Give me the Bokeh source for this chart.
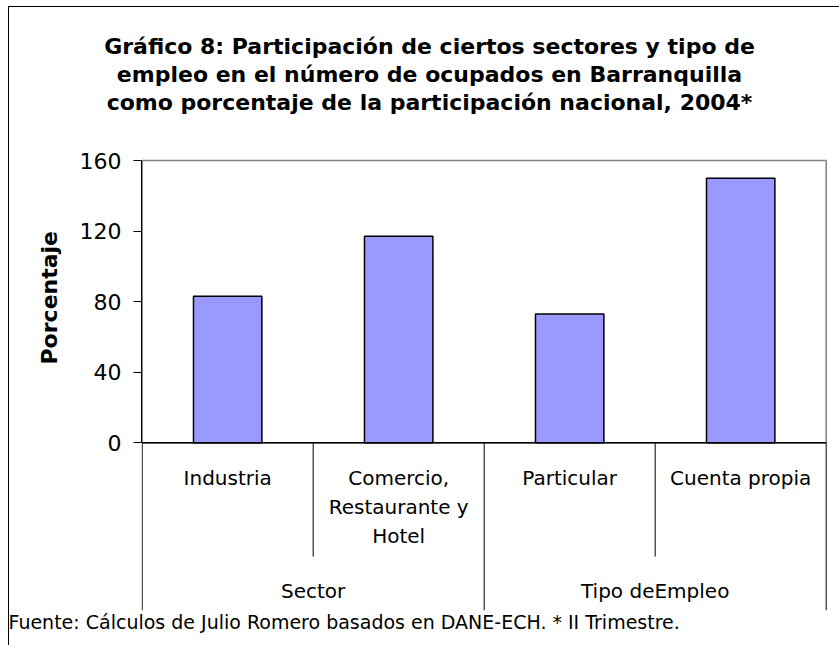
from bokeh.plotting import figure
from bokeh.layouts import column
from bokeh.models import Range1d, FixedTicker, Title
from bokeh.embed import file_html
from bokeh.resources import INLINE

# ---------------- data ----------------
title_lines = [
    "Gráfico 8: Participación de ciertos sectores y tipo de",
    "empleo en el número de ocupados en Barranquilla",
    "como porcentaje de la participación nacional, 2004*",
]
categories = ["Industria", "Comercio,\nRestaurante y\nHotel", "Particular", "Cuenta propia"]
groups = ["Sector", "Sector", "Tipo deEmpleo", "Tipo deEmpleo"]
values = [83, 117, 73, 150]
y_ticks = [0, 40, 80, 120, 160]
y_label = "Porcentaje"
source_note = "Fuente: Cálculos de Julio Romero basados en DANE-ECH. * II Trimestre."

# ---------------- layout constants ----------------
FONT = "DejaVu Sans"
W = 830
H_T = 136                      # title strip height
H_M = 502                      # main chart height
TITLE_CX = 420                 # title centre (px)
TITLE_ROWS = [39, 67, 95]      # title line centres (px from top)

B_LEFT, B_RIGHT, B_TOP, B_BOTTOM = 132, 10, 15, 35
KY = 1.764            # px per unit (y)
KX = 171.0            # px per category (x)
Y_TOP = 160 + 2 / KY
Y_BOT = Y_TOP - (H_M - B_TOP - B_BOTTOM) / KY
X_START = -0.004
X_END = X_START + (W - B_LEFT - B_RIGHT) / KX

n = len(categories)
xc = [i + 0.5 for i in range(n)]

# ---------------- title strip ----------------
pt = figure(width=W, height=H_T, output_backend="svg", toolbar_location=None,
            x_range=Range1d(0, W), y_range=Range1d(H_T, 0),
            x_axis_location=None, y_axis_location=None,
            min_border=0, min_border_left=0, min_border_right=0,
            min_border_top=0, min_border_bottom=0)
pt.frame_align = False
pt.grid.visible = False
pt.outline_line_color = None
pt.background_fill_color = "white"
pt.border_fill_color = "white"
pt.text(x=[TITLE_CX] * len(title_lines), y=TITLE_ROWS, text=title_lines,
        text_align="center", text_baseline="middle",
        text_font={"value": FONT}, text_font_size="22px", text_font_style="bold",
        text_color="black")

# ---------------- main chart ----------------
p = figure(width=W, height=H_M, output_backend="svg", toolbar_location=None,
           x_range=Range1d(X_START, X_END), y_range=Range1d(Y_BOT, Y_TOP),
           x_axis_location=None, min_border_left=B_LEFT, min_border_right=B_RIGHT,
           min_border_top=B_TOP, min_border_bottom=B_BOTTOM)
p.frame_align = False
p.grid.visible = False
p.outline_line_color = None
p.background_fill_color = "white"
p.border_fill_color = "white"

# y axis
ya = p.yaxis[0]
ya.ticker = FixedTicker(ticks=y_ticks)
ya.bounds = (y_ticks[0], y_ticks[-1])
ya.axis_line_color = "black"
ya.axis_line_width = 1
ya.major_tick_out = 8
ya.major_tick_in = 0
ya.minor_tick_line_color = None
ya.major_label_text_font = FONT
ya.major_label_text_font_size = "22px"
ya.major_label_text_color = "black"
ya.major_label_standoff = 12

# y-axis title (left panel), placed along the value range
p.add_layout(Title(text=y_label, align="left", offset=246, standoff=30,
                   vertical_align="bottom",
                   text_font=FONT, text_font_size="22px", text_font_style="bold",
                   text_color="black"), "left")

# plot-area box (gray top/right)
p.quad(left=[0], right=[n], bottom=[y_ticks[0]], top=[y_ticks[-1]],
       fill_color=None, line_color="#808080", line_width=1.5)

# bars
p.vbar(x=xc, top=values, bottom=0, width=0.4, fill_color="#9999FF",
       line_color="black", line_width=1.5)

# category axis line at zero
p.segment(x0=[0], x1=[n], y0=[0], y1=[0], line_color="black", line_width=1.5)

# separators
INNER_END = -64.5
sep_x, sep_y1 = [], []
for i in range(n + 1):
    sep_x.append(i)
    if i == 0 or i == n or groups[i - 1] != groups[i]:
        sep_y1.append(Y_BOT)
    else:
        sep_y1.append(INNER_END)
p.segment(x0=sep_x, x1=sep_x, y0=[0] * len(sep_x), y1=sep_y1,
          line_color="black", line_width=1)

# category labels
p.text(x=xc, y=[-13.2] * n, text=categories, text_align="center",
       text_baseline="top", text_font={"value": FONT}, text_font_size="20px",
       text_color="black", text_line_height=1.2)

# group labels
grp_names, grp_x = [], []
for i, g in enumerate(groups):
    if g not in grp_names:
        grp_names.append(g)
        grp_x.append([])
    grp_x[grp_names.index(g)].append(xc[i])
gx = [sum(v) / len(v) for v in grp_x]
p.text(x=gx, y=[-84.3] * len(gx), text=grp_names, text_align="center",
       text_baseline="middle", text_font={"value": FONT}, text_font_size="20px",
       text_color="black")

# source note
p.add_layout(Title(text=source_note, align="left", offset=-133, standoff=0,
                   vertical_align="top",
                   text_font=FONT, text_font_size="19px", text_font_style="normal",
                   text_color="black"), "below")

layout = column(pt, p, spacing=0,
                styles={"margin-left": "8px", "margin-top": "6px",
                        "border-top": "1px solid black", "border-left": "1px solid black"})

open("out.html", "w").write(file_html(layout, INLINE))
